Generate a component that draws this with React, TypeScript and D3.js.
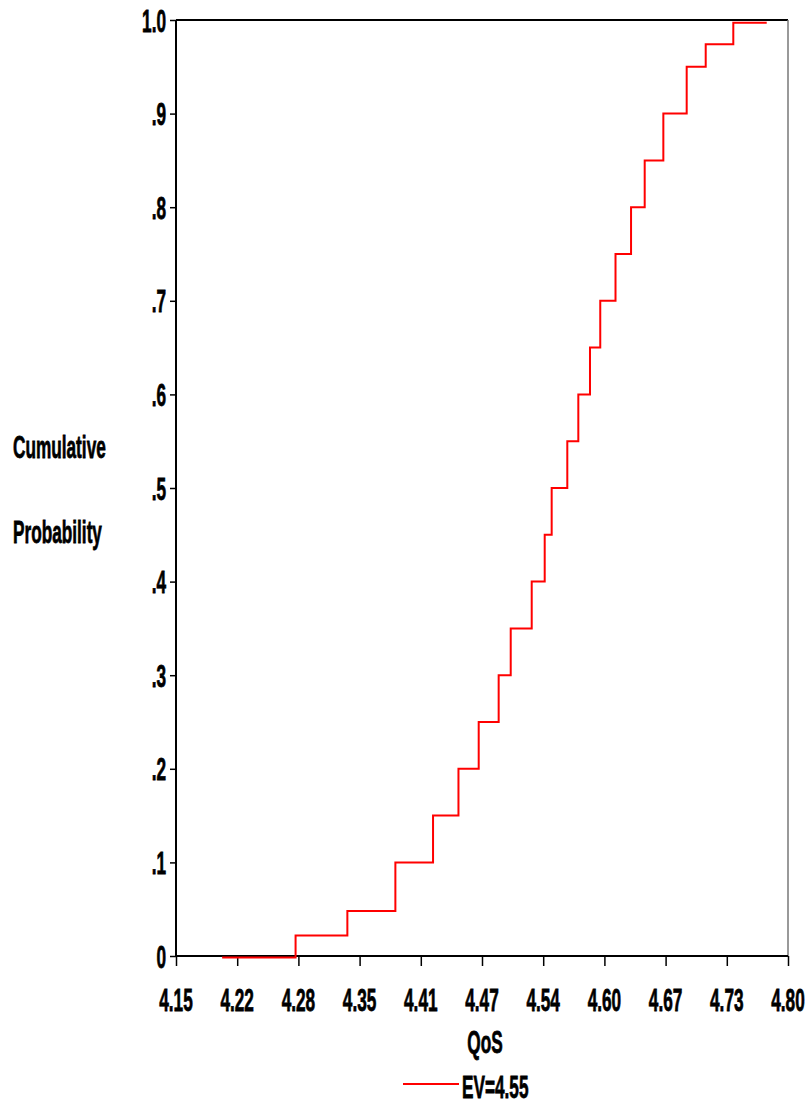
import React, { useEffect, useRef } from 'react';
import * as d3 from 'd3';

// QoS values where the cumulative curve steps up
const qosValues = [
  4.199, 4.277, 4.332, 4.383, 4.423, 4.45, 4.4715, 4.4927, 4.5055, 4.5278, 4.5416, 4.549,
  4.5656, 4.5773, 4.5897, 4.6006, 4.6168, 4.6333, 4.6478, 4.6676, 4.6924, 4.7126, 4.7419, 4.7774,
];
const cumProb = [
  0, 0.022, 0.048, 0.1, 0.15, 0.2, 0.25, 0.3, 0.35, 0.4, 0.45, 0.5, 0.55, 0.6, 0.65, 0.7, 0.75,
  0.8, 0.85, 0.9, 0.95, 0.974, 0.997, 0.997,
];

const xTickValues = [4.15, 4.215, 4.28, 4.345, 4.41, 4.475, 4.54, 4.605, 4.67, 4.735, 4.8];
const xTickLabels = ['4.15', '4.22', '4.28', '4.35', '4.41', '4.47', '4.54', '4.60', '4.67', '4.73', '4.80'];
const yTickValues = [0, 0.1, 0.2, 0.3, 0.4, 0.5, 0.6, 0.7, 0.8, 0.9, 1.0];
const yTickLabels = ['0', '.1', '.2', '.3', '.4', '.5', '.6', '.7', '.8', '.9', '1.0'];

const seriesLabel = 'EV=4.55';

const W = 807;
const H = 1104;
const FONT = "'Liberation Sans', Arial, sans-serif";
const SQUEEZE = 'scale(0.82,1.53)';

const App = () => {
  const svgRef = useRef<SVGSVGElement>(null);

  useEffect(() => {
    const svg = d3.select(svgRef.current);
    svg.selectAll('*').remove();

    const left = 176;
    const right = 788;
    const top = 20;
    const bottom = 956;

    const x = d3.scaleLinear().domain([4.15, 4.8]).range([left, right]);
    const y = d3.scaleLinear().domain([0, 1]).range([bottom, top]);

    // helper for the narrow, tall bold text of the original
    const label = (tx: number, ty: number, text: string, anchor = 'start') => {
      svg
        .append('text')
        .attr('transform', `translate(${tx},${ty}) ${SQUEEZE}`)
        .attr('text-anchor', anchor)
        .attr('font-family', FONT)
        .attr('font-weight', 'bold')
        .attr('font-size', 21)
        .attr('fill', '#000')
        .attr('stroke', '#000')
        .attr('stroke-width', 0.5)
        .text(text);
    };

    // frame: top black, right grey
    svg.append('line').attr('x1', left).attr('x2', right).attr('y1', top).attr('y2', top)
      .attr('stroke', '#000').attr('stroke-width', 2);
    svg.append('line').attr('x1', right).attr('x2', right).attr('y1', top).attr('y2', bottom)
      .attr('stroke', '#777').attr('stroke-width', 1.5);

    // y axis
    const yAxis = svg
      .append('g')
      .attr('transform', `translate(${left},0)`)
      .call(d3.axisLeft(y).tickValues(yTickValues).tickSize(6).tickFormat(() => ''));
    yAxis.select('.domain').attr('stroke', '#000').attr('stroke-width', 2).attr('d', `M0,${top}V${bottom}`);
    yAxis.selectAll('.tick line').attr('stroke', '#000').attr('stroke-width', 1.5);

    // x axis
    const xAxis = svg
      .append('g')
      .attr('transform', `translate(0,${bottom})`)
      .call(d3.axisBottom(x).tickValues(xTickValues).tickSize(10).tickFormat(() => ''));
    xAxis.select('.domain').attr('stroke', '#000').attr('stroke-width', 2).attr('d', `M${left},0H${right}`);
    xAxis.selectAll('.tick line').attr('stroke', '#000').attr('stroke-width', 1.5);

    // step line, drawn over the axes so the zero segment shows
    const line = d3
      .line<number>()
      .x((d, i) => x(qosValues[i]))
      .y((d) => y(d) + (d === 0 ? 1.5 : 0))
      .curve(d3.curveStepAfter);

    svg
      .append('path')
      .datum(cumProb)
      .attr('d', line)
      .attr('fill', 'none')
      .attr('stroke', '#ff0000')
      .attr('stroke-width', 2);

    yTickValues.forEach((v, i) => label(left - 10, y(v) + 11.5, yTickLabels[i], 'end'));
    xTickValues.forEach((v, i) => label(x(v), 1011, xTickLabels[i], 'middle'));

    // axis titles
    label(13, 458, 'Cumulative');
    label(13, 543, 'Probability');
    label(485, 1053, 'QoS', 'middle');

    // legend
    svg.append('line').attr('x1', 403).attr('x2', 459).attr('y1', 1084).attr('y2', 1084)
      .attr('stroke', '#ff0000').attr('stroke-width', 2);
    label(462, 1098, seriesLabel);
  }, []);

  return (
    <div style={{ position: 'absolute', left: 0, top: 0 }}>
      <svg ref={svgRef} width={W} height={H} style={{ display: 'block', background: '#fff' }} />
    </div>
  );
};

export default App;
